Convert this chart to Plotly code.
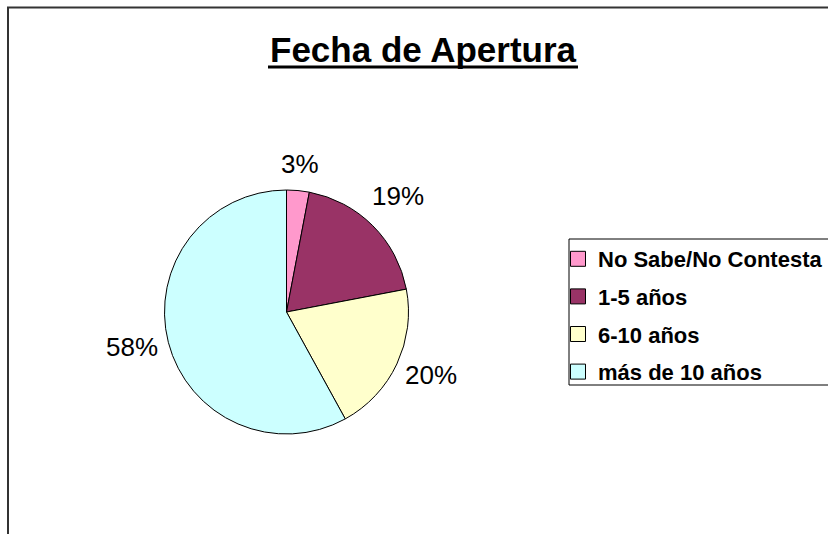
import math
import plotly.graph_objects as go

categories = ["No Sabe/No Contesta", "1-5 años", "6-10 años", "más de 10 años"]
values = [3, 19, 20, 58]
colors = ["#FF99CC", "#993366", "#FFFFCC", "#CCFFFF"]
title_text = "Fecha de Apertura"

W, H = 828, 534
FONT = "Liberation Sans, Arial, sans-serif"


def px(x):
    return x / W


def py(y):
    return 1 - y / H


cx, cy, r = 286.5, 312, 122
LABEL_SIZE = 26

fig = go.Figure()
fig.add_trace(go.Pie(
    labels=categories, values=values,
    marker=dict(colors=colors, line=dict(color="black", width=1)),
    sort=False, direction="clockwise", rotation=0,
    textinfo="none",
    showlegend=False,
    domain=dict(x=[px(cx - r), px(cx + r)], y=[py(cy + r), py(cy - r)]),
))

# percentage labels placed outside each slice, along its mid angle
total = sum(values)
cum = 0
for v in values:
    mid = (cum + v / 2) / total * 2 * math.pi
    cum += v
    txt = f"{round(v / total * 100)}%"
    nd = sum(ch.isdigit() for ch in txt)
    hw = (nd * 0.556 + 0.889) * LABEL_SIZE / 2
    hh = 10
    s, c = math.sin(mid), -math.cos(mid)
    d = r + 10 + abs(s) * hw + abs(c) * hh
    fig.add_annotation(text=txt, xref="paper", yref="paper",
                       x=px(cx + d * s), y=py(cy + d * c - 5),
                       xanchor="center", yanchor="middle", showarrow=False,
                       font=dict(family=FONT, size=LABEL_SIZE, color="black"))

for i, (name, col) in enumerate(zip(categories, colors)):
    fig.add_trace(go.Scatter(
        x=[None], y=[None], mode="markers", name=name,
        legendgroup=str(i), showlegend=True,
        marker=dict(symbol="square", size=15, color=col,
                    line=dict(color="black", width=1)),
    ))

fig.add_shape(type="rect", xref="paper", yref="paper",
              x0=px(8), x1=px(880), y0=py(7.5), y1=py(600),
              line=dict(color="#333333", width=2), fillcolor="rgba(0,0,0,0)")
fig.add_shape(type="rect", xref="paper", yref="paper",
              x0=px(569), x1=px(880), y0=py(239), y1=py(385),
              line=dict(color="black", width=1), fillcolor="rgba(0,0,0,0)")
fig.add_shape(type="line", xref="paper", yref="paper",
              x0=px(268), x1=px(578), y0=py(67), y1=py(67),
              line=dict(color="black", width=3))

fig.add_annotation(text=title_text, xref="paper", yref="paper",
                   x=px(423), y=py(49), xanchor="center", yanchor="middle",
                   showarrow=False,
                   font=dict(family=FONT, size=35, color="black", weight="bold"))

fig.update_layout(
    width=W, height=H,
    margin=dict(l=0, r=0, t=0, b=0),
    paper_bgcolor="white", plot_bgcolor="white",
    xaxis=dict(visible=False), yaxis=dict(visible=False),
    showlegend=True,
    legend=dict(
        x=px(558), y=py(238), xanchor="left", yanchor="top",
        traceorder="grouped", tracegroupgap=6,
        bgcolor="rgba(0,0,0,0)", borderwidth=0,
        font=dict(family=FONT, size=22, color="black", weight="bold"),
    ),
)

fig.write_html(
    "out.html",
    config={"displayModeBar": False},
    post_script="document.body.style.margin='0';"
                "document.body.style.overflow='hidden';",
)
